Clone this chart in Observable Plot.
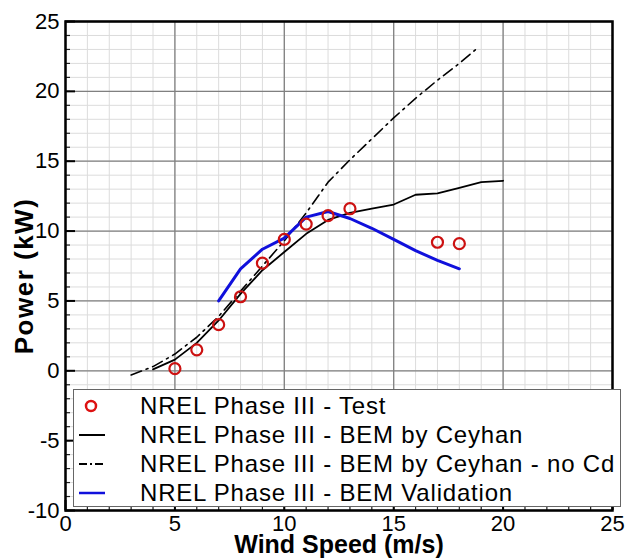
<!DOCTYPE html>
<html><head><meta charset="utf-8">
<script src="https://cdn.jsdelivr.net/npm/d3@7"></script>
<script src="https://cdn.jsdelivr.net/npm/@observablehq/plot@0.6"></script>
<style>
body{margin:0;background:#fff;font-family:"Liberation Sans",Arial,sans-serif;}
#wrap{position:relative;width:626px;height:558px;}
#legend{position:absolute;left:73px;top:389px;width:548px;height:118px;border:1px solid #666;background:#fff;box-sizing:border-box;}
.row{position:absolute;left:0;height:29px;width:546px;display:flex;align-items:center;font-size:24px;letter-spacing:0.8px;color:#000;white-space:nowrap;}
.row svg{margin-left:3px;margin-right:33px;flex:none;}
</style></head><body><div id="wrap"></div>
<script>
const testWind = [5,6,7,8,9,10,11,12,13,17,18];
const testPower = [0.15,1.5,3.3,5.3,7.7,9.4,10.5,11.1,11.6,9.2,9.1];
const ceyhanWind = [4,5,6,7,8,9,10,11,12,13,14,15,16,17,18,19,20];
const ceyhanPower = [0.1,0.8,2.0,3.6,5.5,7.2,8.5,9.8,10.8,11.3,11.6,11.9,12.6,12.7,13.1,13.5,13.6];
const noCdWind = [3,4,5,6,7,8,9,10,11,12,13,14,15,16,17,18,18.9];
const noCdPower = [-0.3,0.3,1.2,2.4,3.9,5.7,7.5,9.3,11.3,13.5,15.1,16.6,18.1,19.5,20.8,22.0,23.2];
const validWind = [7,8,9,10,11,12,13,14,15,16,17,18];
const validPower = [5.0,7.3,8.7,9.5,11.0,11.4,10.9,10.2,9.4,8.6,7.9,7.3];
const xTicks = [0,5,10,15,20,25];
const yTicks = [-10,-5,0,5,10,15,20,25];
const seriesNames = ["NREL Phase III - Test","NREL Phase III - BEM by Ceyhan","NREL Phase III - BEM by Ceyhan - no Cd","NREL Phase III - BEM Validation"];

const xMinor = d3.range(0, 26, 1);
const yMinor = d3.range(-10, 26, 1);
const toRows = (xs, ys) => xs.map((x, i) => ({x, y: ys[i]}));
const test = toRows(testWind, testPower);
const ceyhan = toRows(ceyhanWind, ceyhanPower);
const noCd = toRows(noCdWind, noCdPower);
const valid = toRows(validWind, validPower);

const W = 626, H = 558, mL = 65, mR = 14, mT = 21, mB = 48;
const pw = W - mL - mR, ph = H - mT - mB;

const chart = Plot.plot({
  width: W, height: H,
  marginLeft: mL, marginRight: mR, marginTop: mT, marginBottom: mB,
  style: {fontFamily: '"Liberation Sans", Arial, sans-serif', fontSize: "22px", color: "#000", background: "#fff"},
  x: {domain: [0, 25]},
  y: {domain: [-10, 25]},
  marks: [
    Plot.ruleX(xMinor, {x: d => d, stroke: "#dcdcdc", strokeWidth: 1}),
    Plot.ruleY(yMinor, {y: d => d, stroke: "#dcdcdc", strokeWidth: 1}),
    Plot.ruleX(xTicks, {x: d => d, stroke: "#808080", strokeWidth: 1.3}),
    Plot.ruleY(yTicks, {y: d => d, stroke: "#808080", strokeWidth: 1.3}),
    Plot.ruleY(yMinor, {y: d => d, stroke: "#222", strokeWidth: 1.2, insetRight: pw - 5}),
    Plot.ruleY(yTicks, {y: d => d, stroke: "#000", strokeWidth: 2, insetRight: pw - 10}),
    Plot.ruleX(xMinor, {x: d => d, stroke: "#222", strokeWidth: 1.2, insetTop: ph - 5}),
    Plot.ruleX(xTicks, {x: d => d, stroke: "#000", strokeWidth: 2, insetTop: ph - 10}),
    Plot.axisX({ticks: xTicks, tickFormat: d => String(d), tickSize: 0, tickPadding: 5, fontSize: 22, label: "Wind Speed (m/s)", labelAnchor: "center", labelArrow: "none", labelOffset: 42}),
    Plot.axisY({ticks: yTicks, tickFormat: d => String(d), tickSize: 0, tickPadding: 6, fontSize: 22, label: "Power (kW)", labelAnchor: "center", labelArrow: "none", labelOffset: 51}),
    Plot.line(noCd, {x: "x", y: "y", stroke: "#000", strokeWidth: 1.6, strokeDasharray: "11,5,2,5"}),
    Plot.line(ceyhan, {x: "x", y: "y", stroke: "#000", strokeWidth: 1.8}),
    Plot.line(valid, {x: "x", y: "y", stroke: "#1010dc", strokeWidth: 3}),
    Plot.dot(test, {x: "x", y: "y", r: 5.5, stroke: "#cc1111", strokeWidth: 2.2, fill: "none"}),
    Plot.frame({stroke: "#000", strokeWidth: 2.5})
  ]
});
d3.select(chart).selectAll('[aria-label="x-axis label"] text')
  .style("font-weight", "bold").style("font-size", "25px");
d3.select(chart).selectAll('[aria-label="y-axis label"] text')
  .style("font-weight", "bold").style("font-size", "26px").style("letter-spacing", "1.5px")
  .attr("transform", function() { return (this.getAttribute("transform") || "") + " translate(-10,0)"; });
const wrap = document.getElementById("wrap");
wrap.appendChild(chart);

const legend = document.createElement("div");
legend.id = "legend";
const markers = [
  '<circle cx="14" cy="10" r="5" fill="none" stroke="#dd1111" stroke-width="2.5"/>',
  '<line x1="2" y1="10" x2="28" y2="10" stroke="#000" stroke-width="2"/>',
  '<line x1="2" y1="10" x2="28" y2="10" stroke="#000" stroke-width="2" stroke-dasharray="8,3,2,3"/>',
  '<line x1="2" y1="10" x2="28" y2="10" stroke="#1010dc" stroke-width="2.5"/>'
];
seriesNames.forEach((name, i) => {
  const row = document.createElement("div");
  row.className = "row";
  row.style.top = (1 + i * 29) + "px";
  row.innerHTML = `<svg width="30" height="20">${markers[i]}</svg><span>${name}</span>`;
  legend.appendChild(row);
});
wrap.appendChild(legend);
</script></body></html>
